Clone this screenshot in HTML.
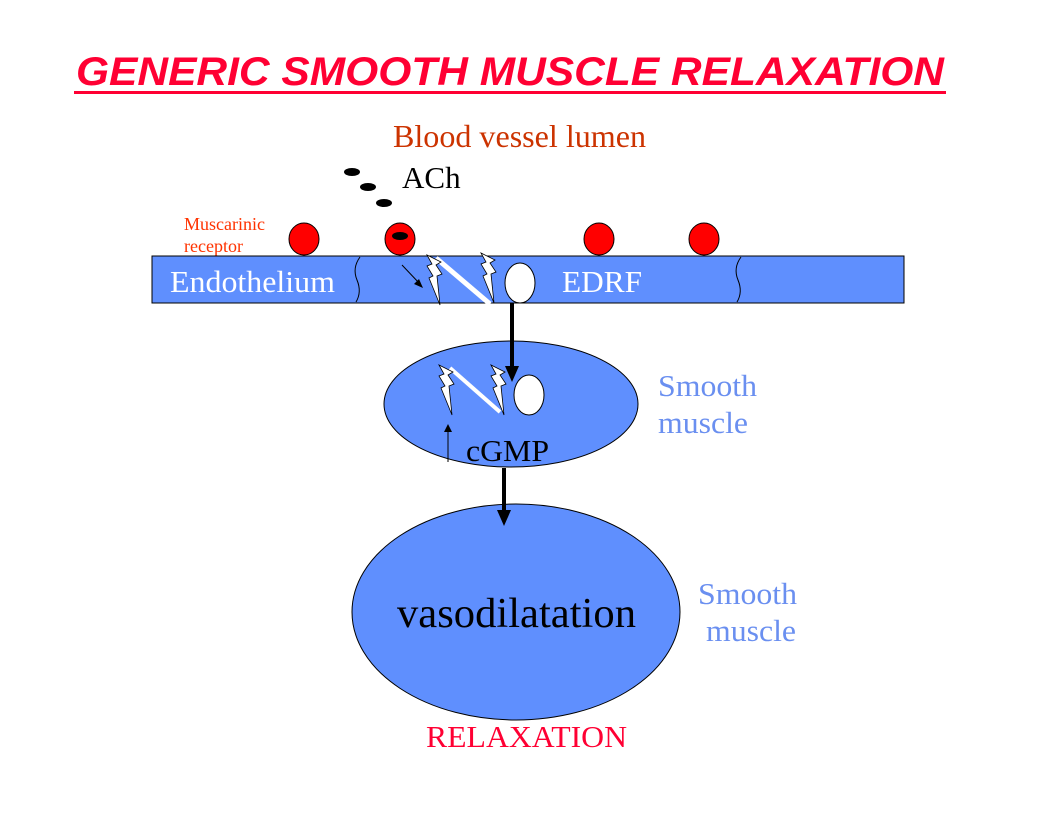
<!DOCTYPE html>
<html><head><meta charset="utf-8"><style>
html,body{margin:0;padding:0;background:#fff;}
svg{display:block;}
</style></head><body>
<svg width="1056" height="816" viewBox="0 0 1056 816" xmlns="http://www.w3.org/2000/svg">
<defs>
<polygon id="bolt" points="0,0 14,7 9,10 15,19 10,21 13,50 2,23 6,21 0,11 5,9" fill="#fff" stroke="#000" stroke-width="0.8"/>
</defs>
<text x="76" y="85" font-family="Liberation Sans, sans-serif" font-size="40" font-weight="bold" font-style="italic" fill="#ff0033" textLength="868" lengthAdjust="spacingAndGlyphs">GENERIC SMOOTH MUSCLE RELAXATION</text>
<rect x="74" y="91" width="872" height="3" fill="#ff0033"/>
<text x="393" y="147" font-family="Liberation Serif, serif" font-size="32" fill="#cc3300" textLength="253" lengthAdjust="spacingAndGlyphs">Blood vessel lumen</text>
<ellipse cx="352" cy="172" rx="8" ry="4" fill="#000"/>
<ellipse cx="368" cy="187" rx="8" ry="4" fill="#000"/>
<ellipse cx="384" cy="203" rx="8" ry="4" fill="#000"/>
<text x="402" y="188" font-family="Liberation Serif, serif" font-size="31" fill="#000">ACh</text>
<text x="184" y="230" font-family="Liberation Serif, serif" font-size="18" fill="#ff3300">Muscarinic</text>
<text x="184" y="252" font-family="Liberation Serif, serif" font-size="18" fill="#ff3300">receptor</text>
<rect x="152" y="256" width="752" height="47" fill="#5f8ffe" stroke="#000" stroke-width="1"/>
<path d="M360,257 Q352,268 357,280 Q362,292 356,302" fill="none" stroke="#000" stroke-width="1"/>
<path d="M741,257 Q733,268 738,280 Q743,292 737,302" fill="none" stroke="#000" stroke-width="1"/>
<g fill="#ff0000" stroke="#000" stroke-width="1">
<ellipse cx="304" cy="239" rx="15" ry="16"/>
<ellipse cx="400" cy="239" rx="15" ry="16"/>
<ellipse cx="599" cy="239" rx="15" ry="16"/>
<ellipse cx="704" cy="239" rx="15" ry="16"/>
</g>
<ellipse cx="400" cy="236" rx="8" ry="4" fill="#000"/>
<text x="170" y="292" font-family="Liberation Serif, serif" font-size="31" fill="#fff" textLength="165" lengthAdjust="spacingAndGlyphs">Endothelium</text>
<text x="562" y="292" font-family="Liberation Serif, serif" font-size="31" fill="#fff" textLength="80" lengthAdjust="spacingAndGlyphs">EDRF</text>
<line x1="402" y1="265" x2="420" y2="284" stroke="#000" stroke-width="1"/>
<polygon points="423,288 414,284 419,279" fill="#000"/>
<line x1="436" y1="258" x2="490" y2="304" stroke="#fff" stroke-width="5"/>
<use href="#bolt" x="427" y="255"/>
<use href="#bolt" x="481" y="253"/>
<ellipse cx="520" cy="283" rx="15" ry="20" fill="#fff" stroke="#000" stroke-width="1"/>
<ellipse cx="511" cy="404" rx="127" ry="63" fill="#5f8ffe" stroke="#000" stroke-width="1"/>
<line x1="512" y1="303" x2="512" y2="368" stroke="#000" stroke-width="4"/>
<polygon points="505,366 519,366 512,382" fill="#000"/>
<line x1="450" y1="368" x2="500" y2="412" stroke="#fff" stroke-width="4"/>
<use href="#bolt" x="439" y="365"/>
<use href="#bolt" x="491" y="365"/>
<ellipse cx="529" cy="395" rx="15" ry="20" fill="#fff" stroke="#000" stroke-width="1"/>
<line x1="448" y1="462" x2="448" y2="430" stroke="#000" stroke-width="1"/>
<polygon points="444,432 452,432 448,424" fill="#000"/>
<text x="466" y="461" font-family="Liberation Serif, serif" font-size="31" fill="#000" textLength="83" lengthAdjust="spacingAndGlyphs">cGMP</text>
<text x="658" y="396" font-family="Liberation Serif, serif" font-size="31" fill="#6a8ff0" textLength="99" lengthAdjust="spacingAndGlyphs">Smooth</text>
<text x="658" y="433" font-family="Liberation Serif, serif" font-size="31" fill="#6a8ff0" textLength="90" lengthAdjust="spacingAndGlyphs">muscle</text>
<ellipse cx="516" cy="612" rx="164" ry="108" fill="#5f8ffe" stroke="#000" stroke-width="1"/>
<line x1="504" y1="468" x2="504" y2="512" stroke="#000" stroke-width="4"/>
<polygon points="497,510 511,510 504,526" fill="#000"/>
<text x="397" y="627" font-family="Liberation Serif, serif" font-size="42" fill="#000" textLength="239" lengthAdjust="spacingAndGlyphs">vasodilatation</text>
<text x="698" y="604" font-family="Liberation Serif, serif" font-size="31" fill="#6a8ff0" textLength="99" lengthAdjust="spacingAndGlyphs">Smooth</text>
<text x="706" y="641" font-family="Liberation Serif, serif" font-size="31" fill="#6a8ff0" textLength="90" lengthAdjust="spacingAndGlyphs">muscle</text>
<text x="426" y="747" font-family="Liberation Serif, serif" font-size="31" fill="#ff0033" textLength="201" lengthAdjust="spacingAndGlyphs">RELAXATION</text>
</svg>
</body></html>
